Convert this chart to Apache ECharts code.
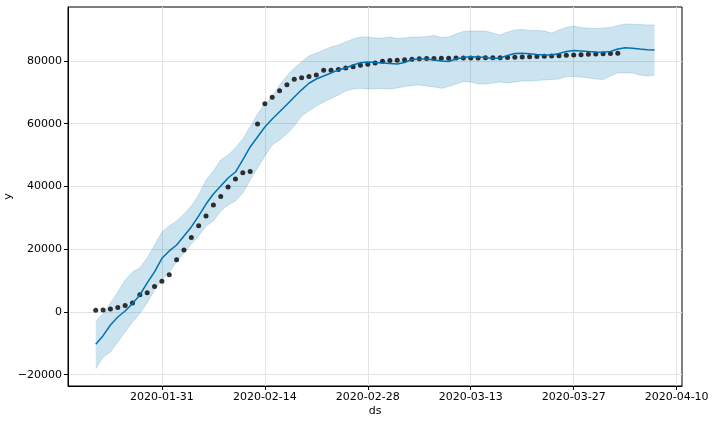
<!DOCTYPE html>
<html><head><meta charset="utf-8">
<script src="https://cdn.jsdelivr.net/npm/echarts@6.0.0/dist/echarts.min.js"></script>
<style>html,body{margin:0;padding:0;background:#fff}#c{width:712px;height:424px}</style>
</head><body><div id="c"></div>
<script>
const dates = [
'2020-01-22','2020-01-23','2020-01-24','2020-01-25','2020-01-26','2020-01-27','2020-01-28','2020-01-29','2020-01-30','2020-01-31',
'2020-02-01','2020-02-02','2020-02-03','2020-02-04','2020-02-05','2020-02-06','2020-02-07','2020-02-08','2020-02-09','2020-02-10',
'2020-02-11','2020-02-12','2020-02-13','2020-02-14','2020-02-15','2020-02-16','2020-02-17','2020-02-18','2020-02-19','2020-02-20',
'2020-02-21','2020-02-22','2020-02-23','2020-02-24','2020-02-25','2020-02-26','2020-02-27','2020-02-28','2020-02-29',
'2020-03-01','2020-03-02','2020-03-03','2020-03-04','2020-03-05','2020-03-06','2020-03-07','2020-03-08','2020-03-09','2020-03-10',
'2020-03-11','2020-03-12','2020-03-13','2020-03-14','2020-03-15','2020-03-16','2020-03-17','2020-03-18','2020-03-19','2020-03-20',
'2020-03-21','2020-03-22','2020-03-23','2020-03-24','2020-03-25','2020-03-26','2020-03-27','2020-03-28','2020-03-29','2020-03-30',
'2020-03-31','2020-04-01','2020-04-02','2020-04-03','2020-04-04','2020-04-05','2020-04-06','2020-04-07'
];
const actualY = [
548,643,920,1406,2075,2877,5509,6087,8141,9802,
11891,16630,19716,23707,27440,30587,34110,36814,39829,42354,
44386,44759,59895,66358,68413,70513,72434,74211,74619,75077,
75550,77001,77022,77241,77754,78166,78600,78928,79356,
79932,80136,80261,80386,80537,80690,80770,80823,80860,80887,
80921,80932,80945,80977,81003,81033,81058,81102,81156,81250,
81305,81435,81498,81591,81661,81782,81897,81999,82122,82198,
82279,82361,82432
];
const yhat = [
-10300,-7550,-4150,-1600,300,2700,5400,9250,12750,17100,
19450,21350,24200,27100,30600,34400,37600,40150,42700,44600,
48450,52600,55750,58950,61500,63800,66100,68500,70800,72900,
74250,75200,76150,77150,77750,78700,79450,79700,79500,
79350,79200,79050,79500,80450,80650,80650,80300,80000,79850,
80650,81100,81350,81250,81100,80800,80950,81750,82400,82450,
82300,82050,81900,81900,82400,83000,83300,83200,83000,82850,
82800,83000,83800,84200,84050,83800,83600,83500
];
const yhatUpper = [
-2870,-640,2870,6370,10200,12750,14020,17210,21350,25500,
27410,29000,31230,33780,37290,42070,44940,48440,50040,52270,
55140,58960,63100,66290,68520,72340,75210,77760,79680,81590,
82540,83500,84460,85090,86050,87000,87640,87640,87320,
87320,87640,87160,87320,87640,87640,87800,88120,87480,87640,
88600,89390,89550,89550,89550,88920,88280,89240,89870,90030,
89710,89710,89550,88920,89870,90670,91150,90670,90420,90420,
90510,90670,91310,91790,91690,91630,91470,91470
];
const yhatLower = [
-18170,-14340,-12750,-9560,-6370,-3190,-480,2870,7010,10200,
12750,15940,18800,21670,24220,27410,29000,32190,34100,35380,
37930,42070,45890,49720,53220,54820,56730,59280,62470,64060,
65650,66930,68040,69160,70430,71070,71290,71070,71160,
71230,71070,71390,71870,72190,72340,72030,71710,71290,71870,
72660,73460,73300,72660,72660,72980,73300,72980,73300,73620,
73620,73780,73940,74100,74260,75050,75050,74900,74580,74260,
74100,75210,76170,76170,76170,75530,75210,75530
];
const xTickLabels = ['2020-01-31','2020-02-14','2020-02-28','2020-03-13','2020-03-27','2020-04-10'];
const yTicks = [-20000,0,20000,40000,60000,80000];

const ts = s => echarts.time.parse(s).getTime();
const actualDates = dates.slice(0, actualY.length);
const FONT = 'DejaVu Sans';
const txt = {color:'#000', fontFamily:FONT, fontSize:11};

const chart = echarts.init(document.getElementById('c'), null, {renderer:'canvas'});
chart.setOption({
  animation:false,
  backgroundColor:'#fff',
  grid:{left:68, right:30, top:7, bottom:38, show:true, borderColor:'#000', borderWidth:1,
        backgroundColor:'transparent', containLabel:false, outerBoundsMode:'none'},
  xAxis:{
    type:'time',
    min: ts('2020-01-18 05:30:00'),
    max: ts('2020-04-10 17:30:00'),
    name:'ds', nameLocation:'middle', nameGap:20, nameMoveOverlap:false,
    nameTextStyle:Object.assign({}, txt),
    axisLine:{show:true, onZero:false, lineStyle:{color:'#000', width:1}},
    axisTick:{show:true, length:4, lineStyle:{color:'#000'}, customValues: xTickLabels.map(ts)},
    axisLabel:Object.assign({margin:6, formatter:'{yyyy}-{MM}-{dd}', customValues: xTickLabels.map(ts), hideOverlap:false}, txt),
    splitLine:{show:true, lineStyle:{color:'#e3e3e3', width:1}},
    minorTick:{show:false}
  },
  yAxis:{
    type:'value',
    min:-23600, max:97200,
    name:'y', nameLocation:'middle', nameGap:54, nameMoveOverlap:false,
    nameTextStyle:Object.assign({}, txt),
    axisLine:{show:true, onZero:false, lineStyle:{color:'#000', width:1}},
    axisTick:{show:true, length:4, lineStyle:{color:'#000'}, customValues: yTicks},
    axisLabel:Object.assign({margin:6, customValues: yTicks,
      formatter: v => v < 0 ? '\u2212' + Math.abs(v) : String(v)}, txt),
    splitLine:{show:true, lineStyle:{color:'#e3e3e3', width:1}}
  },
  series:[
    {
      type:'line', name:'lower', stack:'band', stackStrategy:'all',
      data: dates.map((d,i)=>[d, yhatLower[i]]),
      symbol:'none', lineStyle:{color:'rgba(0,114,178,0.22)', width:0.8}, z:1, silent:true
    },
    {
      type:'line', name:'upper', stack:'band', stackStrategy:'all',
      data: dates.map((d,i)=>[d, yhatUpper[i]-yhatLower[i]]),
      symbol:'none', lineStyle:{color:'rgba(0,114,178,0.22)', width:0.8},
      areaStyle:{color:'rgba(0,114,178,0.2)', opacity:1}, z:1, silent:true
    },
    {
      type:'scatter', name:'y',
      data: actualDates.map((d,i)=>[d, actualY[i]]),
      symbol:'circle', symbolSize:5, itemStyle:{color:'#000'}, z:3
    },
    {
      type:'line', name:'yhat',
      data: dates.map((d,i)=>[d, yhat[i]]),
      symbol:'none', lineStyle:{color:'#0072B2', width:1.5}, z:4
    }
  ]
});
</script>
</body></html>
